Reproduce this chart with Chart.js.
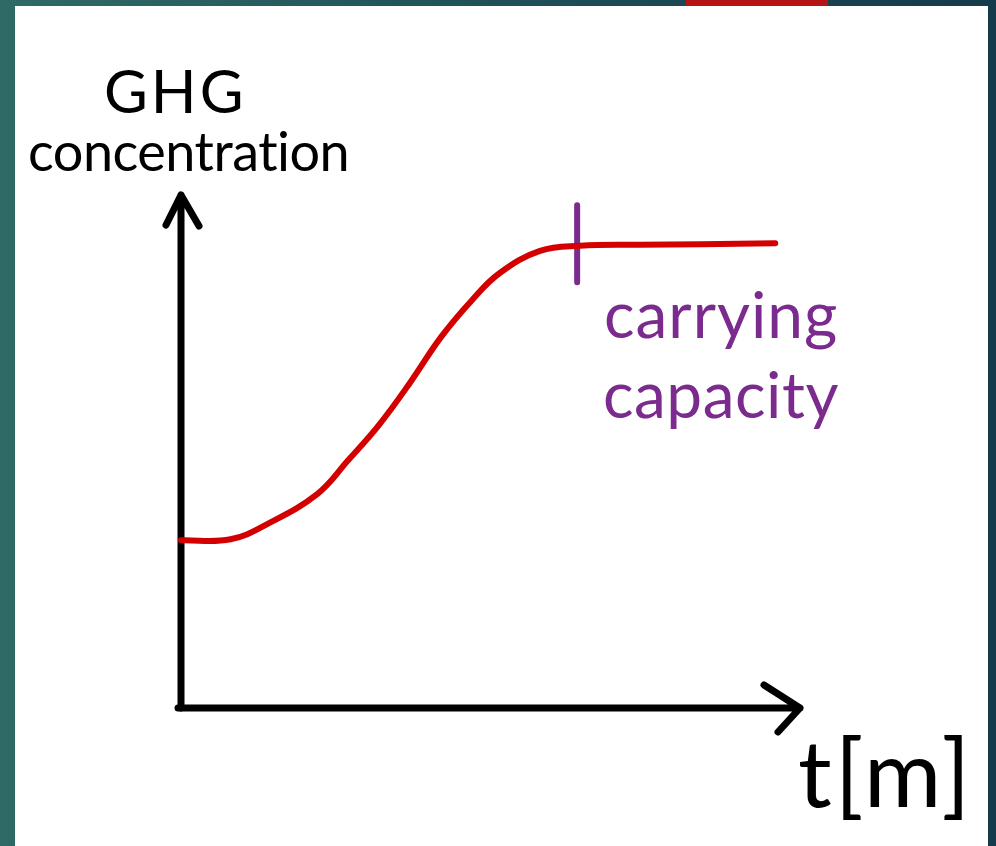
<!DOCTYPE html>
<html>
<head>
<meta charset="utf-8">
<script src="https://cdn.jsdelivr.net/npm/chart.js@4"></script>
<style>
  body { margin: 0; }
  #wrap {
    position: relative;
    width: 996px;
    height: 846px;
    background: linear-gradient(90deg, #2f6a67 0%, #1f5058 50%, #153a4b 100%);
    overflow: hidden;
  }
  #panel {
    position: absolute; left: 15px; top: 6px; width: 973px; height: 840px;
    background: #ffffff;
  }
  #redbar {
    position: absolute; left: 686px; top: 0; width: 142px; height: 6px;
    background: #b41414;
  }
  #chart { position: absolute; left: 0; top: 0; width: 996px; height: 846px; }
  .lbl { position: absolute; font-family: "Lato", sans-serif; white-space: nowrap; line-height: 1; }
</style>
</head>
<body>
<div id="wrap">
  <div id="panel"></div>
  <div id="redbar"></div>
  <div id="chart"><canvas id="ghg-chart"></canvas></div>
  <div class="lbl" style="left:104px; top:60px; font-size:60px; color:#000; letter-spacing:3px;">GHG</div>
  <div class="lbl" style="left:28px; top:124px; font-size:54px; color:#000; letter-spacing:-0.5px;">concentration</div>
  <div class="lbl" style="left:604px; top:282px; font-size:64px; color:#7b2a8e; letter-spacing:1px;">carrying</div>
  <div class="lbl" style="left:603px; top:362px; font-size:64px; color:#7b2a8e; letter-spacing:0.5px;">capacity</div>
  <div class="lbl" style="left:798px; top:724px; font-size:94px; color:#000; letter-spacing:3px;">t[m]</div>
</div>
<script>
// time (arbitrary units) and GHG concentration
const timeValues = [0, 0.8, 1.4, 2.2, 2.7, 3.2, 3.7, 4.2, 4.7, 5.15, 5.8, 6.45, 7.4, 8.4, 9.6];
const concentration = [3.27, 3.29, 3.59, 4.17, 4.83, 5.52, 6.34, 7.23, 7.95, 8.48, 8.91, 9.01, 9.03, 9.04, 9.06];

// carrying capacity marker
const capacityTime = [6.4, 6.4];
const capacityLevel = [9.8, 8.3];

const axisMax = 10;

const axesArrows = {
    id: 'axesArrows',
    beforeDatasetsDraw(chart) {
        const c = chart.ctx;
        const xs = chart.scales.x;
        const ys = chart.scales.y;
        const x0 = xs.getPixelForValue(0);
        const y0 = ys.getPixelForValue(0);
        const yTop = ys.getPixelForValue(axisMax);
        const xEnd = xs.getPixelForValue(axisMax);

        c.save();
        c.strokeStyle = '#000';
        c.lineWidth = 7;
        c.lineCap = 'round';
        c.lineJoin = 'round';

        // y axis with arrow
        c.beginPath();
        c.moveTo(x0, y0);
        c.lineTo(x0, yTop);
        c.moveTo(x0 - 15, yTop + 30);
        c.lineTo(x0, yTop);
        c.lineTo(x0 + 18, yTop + 31);
        c.stroke();

        // x axis with arrow
        c.beginPath();
        c.moveTo(x0 - 3, y0);
        c.lineTo(xEnd, y0);
        c.moveTo(xEnd - 36, y0 - 23);
        c.lineTo(xEnd, y0);
        c.lineTo(xEnd - 22, y0 + 24);
        c.stroke();
        c.restore();
    }
};

const ctx =
    document.getElementById(
        'ghg-chart'
    );

new Chart(
    ctx,
    {
        type: 'line',
        data: {
            datasets: [
                {
                    label: 'GHG concentration',
                    data: timeValues.map((t, i) => ({ x: t, y: concentration[i] })),
                    borderColor: '#d40000',
                    borderWidth: 6,
                    borderCapStyle: 'round',
                    borderJoinStyle: 'round',
                    tension: 0.4,
                    pointRadius: 0,
                    clip: false
                },
                {
                    label: 'carrying capacity',
                    data: capacityTime.map((t, i) => ({ x: t, y: capacityLevel[i] })),
                    borderColor: '#7b2a8e',
                    borderWidth: 6,
                    borderCapStyle: 'round',
                    pointRadius: 0,
                    clip: false
                }
            ]
        },
        options: {
            responsive: true,
            maintainAspectRatio: false,
            animation: false,
            layout: {
                padding: { left: 181, right: 196, top: 195, bottom: 138 }
            },
            plugins: {
                legend: { display: false },
                tooltip: { enabled: false }
            },
            scales: {
                x: { type: 'linear', min: 0, max: axisMax, display: false },
                y: { type: 'linear', min: 0, max: axisMax, display: false }
            }
        },
        plugins: [axesArrows]
    }
);
</script>
</body>
</html>
